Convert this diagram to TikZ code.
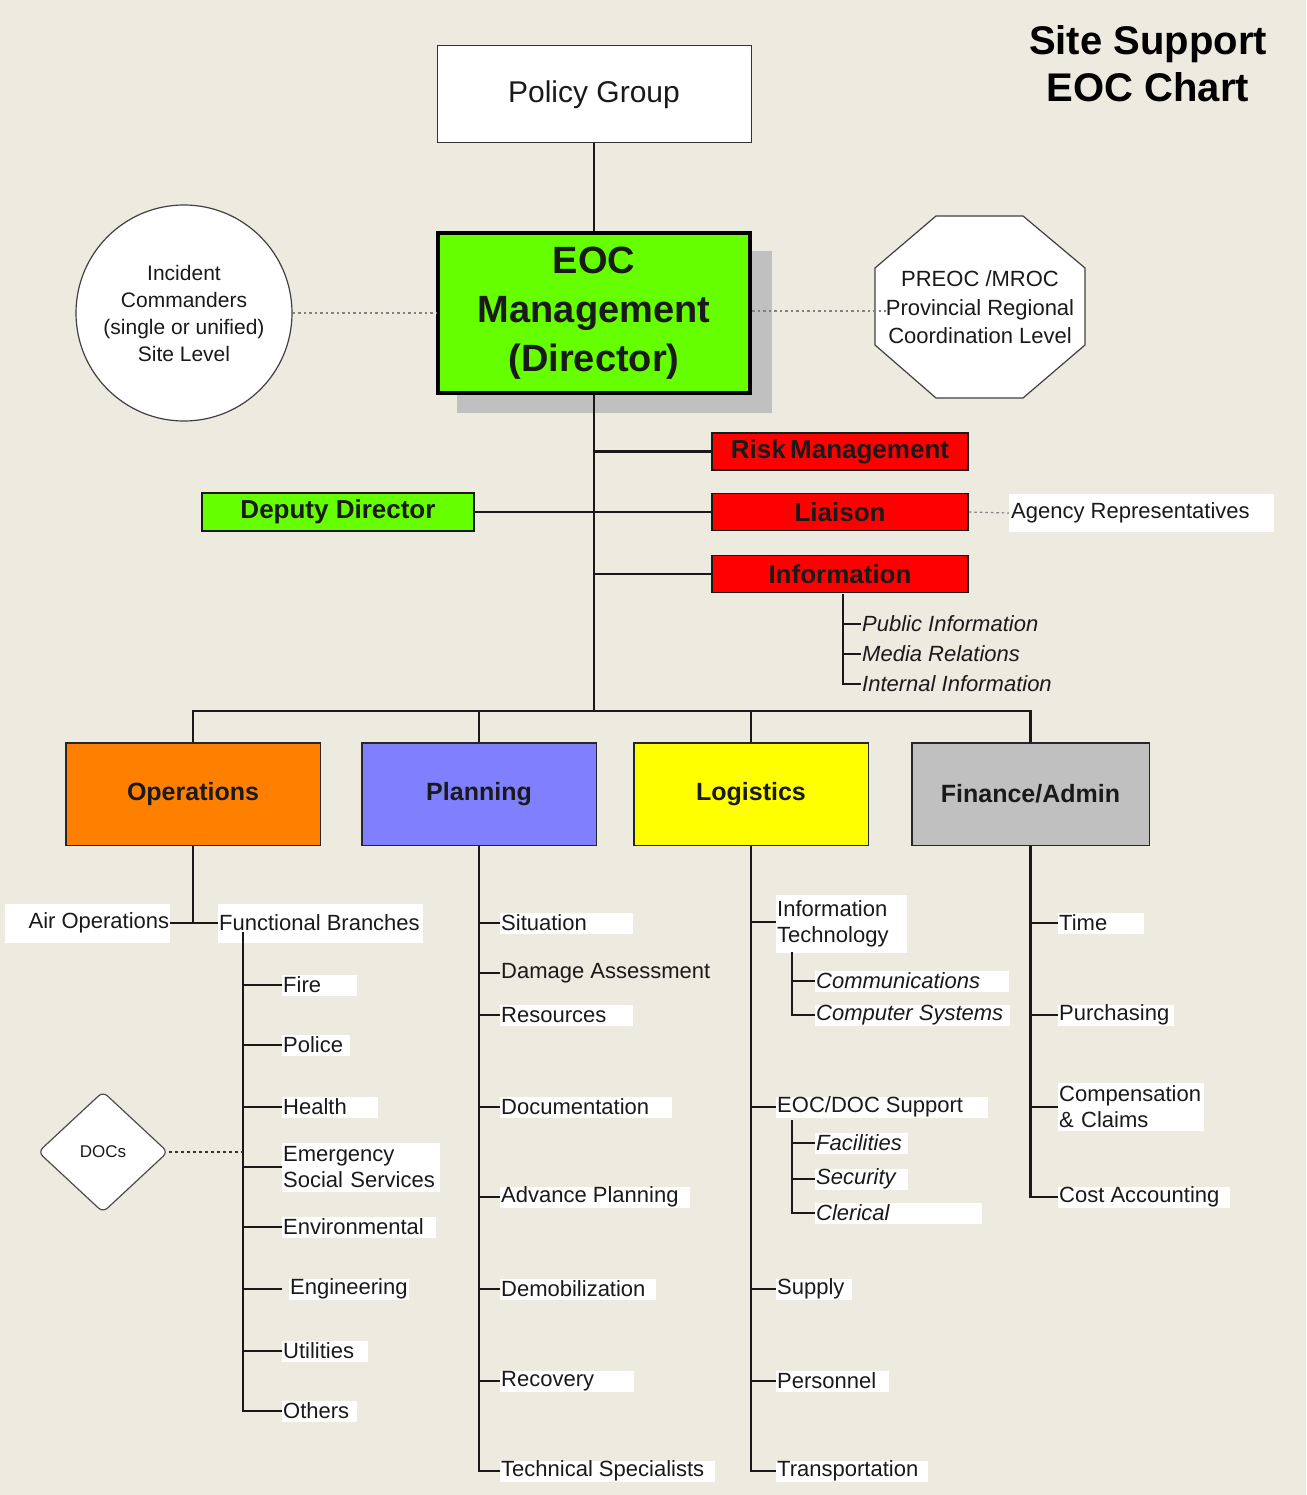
\documentclass[tikz,border=0pt]{standalone}
\usepackage{fontspec}
\setmainfont{Liberation Sans}
\usetikzlibrary{shapes.geometric}
\definecolor{bgc}{HTML}{EDEAE0}
\definecolor{eocg}{HTML}{66FF00}
\definecolor{shad}{HTML}{C0C0C0}
\definecolor{opsc}{HTML}{FF8000}
\definecolor{planc}{HTML}{8080FF}
\definecolor{logc}{HTML}{FFFF00}
\definecolor{finc}{HTML}{C0C0C0}
\definecolor{redc}{HTML}{FF0000}
\definecolor{txtc}{HTML}{1A1A1A}
\definecolor{dotc}{HTML}{808080}
\newcommand{\lblf}{\fontsize{22}{26}\selectfont}
\newcommand{\lbw}[2]{\makebox[#1][l]{#2}}
\begin{document}
\begin{tikzpicture}[x=1pt,y=-1pt,
  conn/.style={line width=2.1pt, draw=black!90},
  dotl/.style={draw=dotc, line width=1.2pt, dash pattern=on 2.5pt off 3pt},
  dotk/.style={draw=black!80, line width=1.4pt, dash pattern=on 3pt off 3pt},
  redbox/.style={draw=black!90, line width=1.5pt, fill=redc, minimum width=256pt, minimum height=37pt, font=\bfseries\fontsize{26}{30}\selectfont, text=txtc},
  dept/.style={draw=black!85, line width=1.5pt, minimum height=102.5pt, font=\bfseries\fontsize{25}{30}\selectfont, text=txtc},
  lab/.style={fill=white, anchor=west, inner xsep=1pt, inner ysep=0pt, minimum height=21pt, font=\lblf, text=txtc},
  itlab/.style={lab, font=\lblf\itshape}
]
\fill[bgc] (0,0) rectangle (1306,1495);
\useasboundingbox (0,0) rectangle (1306,1495);

% title
\node[font=\bfseries\fontsize{40}{47}\selectfont, align=center, text=black] (title) at (1148,63.5) {Site Support\\EOC Chart};

% policy group
\node[draw=black!80, line width=1pt, fill=white, minimum width=314pt, minimum height=97pt, font=\fontsize{30}{36}\selectfont, text=txtc] (policy) at (594,94.5) {Policy Group};

% EOC
\fill[shad] (457,251) rectangle (772,413);
\node[draw=black, line width=4pt, fill=eocg, minimum width=312pt, minimum height=160pt, align=center, font=\bfseries\fontsize{38}{49}\selectfont, text=txtc] (eoc) at (594,313) {EOC\\Management\\(Director)};

% incident commanders
\node[circle, draw=black!75, line width=1.2pt, fill=white, minimum size=216pt, align=center, font=\fontsize{21}{27}\selectfont, text=txtc] (ic) at (184,313) {Incident\\Commanders\\(single or unified)\\Site Level};

% PREOC octagon
\filldraw[fill=white, draw=black!75, line width=1.2pt] (936,216) -- (1023,216) -- (1085,268) -- (1085,345) -- (1023,398) -- (936,398) -- (875,345) -- (875,268) -- cycle;
\node[align=center, font=\fontsize{22}{28.5}\selectfont, text=txtc] (preoc) at (980,307.5) {PREOC /MROC\\Provincial Regional\\Coordination Level};
\coordinate (octw) at (886,311);

\draw[dotl] (ic.east) -- (eoc.west |- ic.east);
\draw[dotl] (eoc.east |- octw) -- (octw);

% staff
\node[redbox] (risk) at (840,451.5) {Risk\,Management};
\node[redbox] (liaison) at (840,512) {Liaison};
\node[redbox] (info) at (840,574) {Information};
\node[draw=black!90, line width=1.5pt, fill=eocg, minimum width=272pt, minimum height=38pt, font=\bfseries\fontsize{26}{30}\selectfont, text=txtc] (deputy) at (338,512) {Deputy Director};

\coordinate (busc) at (594,711);
\draw[conn] (policy) -- (eoc);
\draw[conn] (eoc.south) -- (busc);
\draw[conn] (risk.west) -- (risk.west -| eoc.south);
\draw[conn] (deputy.east) -- (liaison.west);
\draw[conn] (info.west) -- (info.west -| eoc.south);

\node[lab, inner xsep=2pt, minimum height=38pt] (agency) at (1009,513) {\lbw{261pt}{Agency Representatives}};
\draw[dotl] (liaison.east) -- (agency.west);

\node[anchor=west, inner xsep=1pt, font=\lblf\itshape, text=txtc] (pubinfo) at (861,624) {Public Information};
\node[anchor=west, inner xsep=1pt, font=\lblf\itshape, text=txtc] (medrel) at (861,654) {Media Relations};
\node[anchor=west, inner xsep=1pt, font=\lblf\itshape, text=txtc] (intinfo) at (861,684) {Internal Information};
\coordinate (infv) at (843,594);
\draw[conn] (infv) |- (intinfo.west);
\draw[conn] (pubinfo.west) -- (pubinfo.west -| infv);
\draw[conn] (medrel.west) -- (medrel.west -| infv);

% sections
\node[dept, fill=opsc, minimum width=254.5pt] (ops) at (193,794) {Operations};
\node[dept, fill=planc, minimum width=234.5pt] (plan) at (479,794) {Planning};
\node[dept, fill=logc, minimum width=234.5pt] (log) at (751,794) {Logistics};
\node[dept, fill=finc, minimum width=237.5pt] (fin) at (1030.5,794) {Finance/Admin};
\draw[conn] (ops.north) |- (busc) -| (fin.north);
\draw[conn] (plan.north) -- (plan.north |- busc);
\draw[conn] (log.north) -- (log.north |- busc);

% operations
\coordinate (opsj) at (193,922);
\node[lab, minimum height=39pt] (air) at (5,923) {\makebox[163pt][r]{Air Operations}};
\node[lab, minimum height=39pt] (fb) at (218,923) {\lbw{203pt}{Functional Branches}};
\draw[conn] (ops.south) -- (opsj);
\draw[conn] (air.east) -- (fb.west);
\coordinate (fbv) at (243,932);
\node[lab] (fire) at (282,985) {\lbw{73pt}{Fire}};
\node[lab] (police) at (282,1045) {\lbw{66pt}{Police}};
\node[lab] (health) at (282,1107) {\lbw{94pt}{Health}};
\node[lab, minimum height=49pt, text width=156pt, align=left] (ess) at (282,1167) {Emergency\\Social Services};
\node[lab] (env) at (282,1227) {\lbw{152pt}{Environmental}};
\node[lab] (eng) at (289,1289) {\lbw{118pt}{Engineering}};
\node[lab] (util) at (282,1351) {\lbw{84pt}{Utilities}};
\node[lab] (others) at (282,1411) {\lbw{73pt}{Others}};
\draw[conn] (fbv) |- (others.west);
\foreach \n in {fire,police,health,ess,env,util}
  \draw[conn] (\n.west) -- (\n.west -| fbv);
\draw[conn] ([xshift=-7pt]eng.west) -- (eng.west -| fbv);

\node[diamond, draw=black!70, line width=1.2pt, fill=white, minimum width=130pt, minimum height=121pt, inner sep=0pt, rounded corners=6pt, font=\fontsize{17}{20}\selectfont, text=txtc] (docs) at (103,1152) {DOCs};
\draw[dotk] (docs.east) -- (docs.east -| fbv);

% planning
\node[lab] (sit) at (500,923) {\lbw{131pt}{Situation}};
\node[lab, fill=none] (dmg) at (500,973) {Damage Assessment};
\node[lab] (res) at (500,1015) {\lbw{131pt}{Resources}};
\node[lab] (doc) at (500,1107) {\lbw{170pt}{Documentation}};
\node[lab] (adv) at (500,1197) {\lbw{188pt}{Advance Planning}};
\node[lab] (demob) at (500,1289) {\lbw{154pt}{Demobilization}};
\node[lab] (rec) at (500,1381) {\lbw{132pt}{Recovery}};
\node[lab] (tech) at (500,1471) {\lbw{213pt}{Technical Specialists}};
\draw[conn] (plan.south) |- (tech.west);
\foreach \n in {sit,dmg,res,doc,adv,demob,rec}
  \draw[conn] (\n.west) -- (\n.west -| plan.south);

% logistics
\node[lab, minimum height=58pt, text width=129pt, align=left] (it) at (776,924) {Information\\Technology};
\coordinate (itv) at (792,952);
\node[itlab] (comm) at (815,981) {\lbw{192pt}{Communications}};
\node[itlab] (compsys) at (815,1015) {\lbw{193pt}{Computer Systems}};
\draw[conn] (itv) |- (compsys.west);
\draw[conn] (comm.west) -- (comm.west -| itv);
\node[lab] (eocdoc) at (776,1107) {\lbw{210pt}{EOC/DOC Support}};
\coordinate (edv) at (792,1120);
\node[itlab] (fac) at (815,1143) {\lbw{91pt}{Facilities}};
\node[itlab] (sec) at (815,1179) {\lbw{91pt}{Security}};
\node[itlab] (cler) at (815,1213) {\lbw{165pt}{Clerical}};
\draw[conn] (edv) |- (cler.west);
\draw[conn] (fac.west) -- (fac.west -| edv);
\draw[conn] (sec.west) -- (sec.west -| edv);
\node[lab] (supply) at (776,1289) {\lbw{74pt}{Supply}};
\node[lab] (pers) at (776,1381) {\lbw{111pt}{Personnel}};
\node[lab] (transp) at (776,1471) {\lbw{150pt}{Transportation}};
\draw[conn] (log.south) |- (transp.west);
\foreach \n in {supply,pers,eocdoc}
  \draw[conn] (\n.west) -- (\n.west -| log.south);
\draw[conn] (it.west |- 776,922) -- (log.south |- 776,922);

% finance
\node[lab] (time) at (1058,923) {\lbw{84pt}{Time}};
\node[lab] (purch) at (1058,1015) {\lbw{114pt}{Purchasing}};
\node[lab, minimum height=48pt, text width=144pt, align=left] (comp) at (1058,1107) {Compensation\\\& Claims};
\node[lab] (cost) at (1058,1197) {\lbw{170pt}{Cost Accounting}};
\draw[conn] (fin.south) |- (cost.west);
\foreach \n in {time,purch,comp}
  \draw[conn] (\n.west) -- (\n.west -| fin.south);
\end{tikzpicture}
\end{document}
